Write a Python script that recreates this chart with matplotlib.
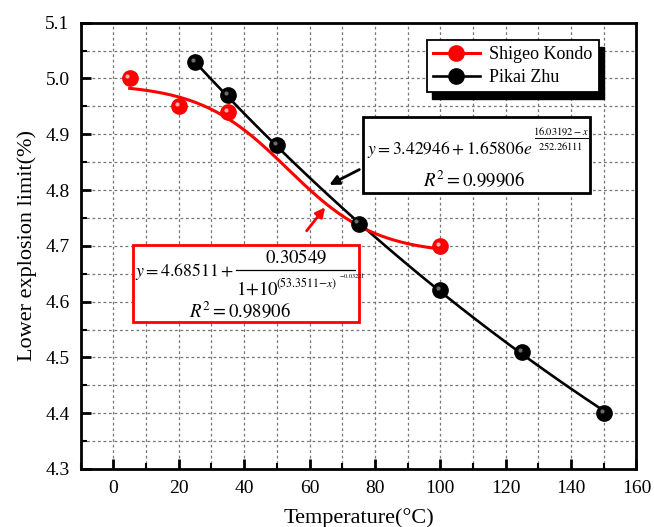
import numpy as np
import matplotlib
matplotlib.use("Agg")
import matplotlib.pyplot as plt
import matplotlib.transforms as mtransforms
from matplotlib.patches import Rectangle
from matplotlib.lines import Line2D
from matplotlib.ticker import MultipleLocator, FormatStrFormatter

plt.rcParams["font.family"] = ["Liberation Serif", "DejaVu Serif"]
plt.rcParams["mathtext.fontset"] = "stix"

# measured data
kondo_t = [5, 20, 35, 100]
kondo_lel = [5.00, 4.95, 4.94, 4.70]
zhu_t = [25, 35, 50, 75, 100, 125, 150]
zhu_lel = [5.03, 4.97, 4.88, 4.74, 4.62, 4.51, 4.40]

# fit coefficients shown in the boxes
kondo_fit = dict(a1=4.68511, span=0.30549, x0=53.3511, p=-0.03221)
zhu_fit = dict(y0=3.42946, a=1.65806, x0=16.03192, t=252.26111)

RED = "#ff0000"
W, H = 654, 527


def kondo_curve(x):
    f = kondo_fit
    return f["a1"] + f["span"] / (1 + 10 ** ((f["x0"] - x) * f["p"]))


def zhu_curve(x):
    f = zhu_fit
    return f["y0"] + f["a"] * np.exp((f["x0"] - x) / f["t"])


fig = plt.figure(figsize=(6.54, 5.27), dpi=100)
ax = fig.add_axes([0.1233, 0.1101, 0.8499, 0.8468])


# helpers in pixel coords (origin top-left) for the annotation boxes
def ptext(x, y, s, size, ha="left", **kw):
    fig.text(x / W, 1 - y / H, s, fontsize=size, ha=ha, va="center", zorder=12, **kw)


def pline(x0, x1, y, lw=0.9):
    fig.add_artist(Line2D([x0 / W, x1 / W], [1 - y / H, 1 - y / H], color="black",
                          lw=lw, transform=fig.transFigure, zorder=12))


def pbox(x0, y0, x1, y1, ec):
    fig.add_artist(Rectangle((x0 / W, 1 - y1 / H), (x1 - x0) / W, (y1 - y0) / H,
                             transform=fig.transFigure, facecolor="white",
                             edgecolor=ec, lw=2, zorder=11))


xr = np.linspace(kondo_t[0], kondo_t[-1], 200)
xb = np.linspace(zhu_t[0], zhu_t[-1], 200)
ax.plot(xb, zhu_curve(xb), color="black", lw=1.9, zorder=3)
ax.plot(xr, kondo_curve(xr), color=RED, lw=2.2, zorder=4)

# glossy-ish markers
hl = mtransforms.offset_copy(ax.transData, fig=fig, x=-1.6, y=1.6, units="points")
ax.plot(zhu_t, zhu_lel, "o", color="black", ms=11, zorder=5)
ax.plot(zhu_t, zhu_lel, "o", color="#6a6a6a", ms=3, mew=0, transform=hl, zorder=6)
ax.plot(kondo_t, kondo_lel, "o", color=RED, ms=11, zorder=5)
ax.plot(kondo_t, kondo_lel, "o", color="#ffb0b0", ms=3, mew=0, transform=hl, zorder=6)

ax.set_xlim(-10, 160)
ax.set_ylim(4.3, 5.1)
ax.xaxis.set_major_locator(MultipleLocator(20))
ax.xaxis.set_minor_locator(MultipleLocator(10))
ax.yaxis.set_major_locator(MultipleLocator(0.1))
ax.yaxis.set_minor_locator(MultipleLocator(0.05))
ax.yaxis.set_major_formatter(FormatStrFormatter("%.1f"))
ax.tick_params(which="both", direction="in", top=False, right=False)
ax.tick_params(which="major", length=7, width=2, labelsize=14, pad=8)
ax.tick_params(which="minor", length=4, width=1.5)
ax.grid(True, which="both", color="#777777", lw=0.9, ls=(0, (2.2, 2.2)))
for s in ax.spines.values():
    s.set_linewidth(2)

ax.set_xlabel("Temperature(\u00b0C)", fontsize=16, labelpad=8)
ax.set_ylabel("Lower explosion limit(%)", fontsize=16, labelpad=6)

# legend with hard black shadow
handles = [
    Line2D([], [], color=RED, lw=2.2, marker="o", ms=11),
    Line2D([], [], color="black", lw=1.9, marker="o", ms=11),
]
leg = ax.legend(handles, ["Shigeo Kondo", "Pikai Zhu"], loc="upper left",
                bbox_to_anchor=(0.6226, 0.961), fontsize=13, fancybox=False,
                framealpha=1, edgecolor="black", borderpad=0.35,
                handlelength=2.6, handletextpad=0.5, labelspacing=0.3,
                borderaxespad=0)
leg.get_frame().set_linewidth(1.3)
leg.set_zorder(10)
fig.canvas.draw()
bb = leg.get_window_extent().transformed(ax.transAxes.inverted())
off = mtransforms.offset_copy(ax.transAxes, fig=fig, x=3.8, y=-5, units="points")
ax.add_patch(Rectangle((bb.x0, bb.y0), bb.width, bb.height, transform=off,
                       facecolor="black", edgecolor="black", zorder=9, clip_on=False))

# Pikai Zhu fit box
pbox(363, 117, 590, 193, "black")
ptext(367, 150, r"$y = 3.42946 + 1.65806e$", 12.6)
ptext(561, 132, r"$16.03192-x$", 7.5, ha="center")
pline(535, 588, 138, lw=0.7)
ptext(561, 146, r"$252.26111$", 7.5, ha="center")
ptext(474, 180, r"$R^2 = 0.99906$", 13.5, ha="center")

# Shigeo Kondo fit box
pbox(133, 245, 359, 322, RED)
ptext(135, 271, r"$y = 4.68511 +$", 12.8)
ptext(296, 258, r"$0.30549$", 13.5, ha="center")
pline(236, 355, 270, lw=0.9)
ptext(236, 290, r"$1{+}10$", 13.5)
ptext(276, 283, r"$(53.3511{-}x)$", 8.5)
ptext(339, 276, r"$-0.03221$", 4.6)
ptext(240, 311, r"$R^2 = 0.98906$", 13.5, ha="center")

# arrows
ax.annotate("", xy=(65.3, 4.807), xytext=(76.0, 4.839),
            arrowprops=dict(arrowstyle="-|>", color="black", lw=2, mutation_scale=14),
            zorder=9)
ax.annotate("", xy=(65.3, 4.773), xytext=(58.6, 4.723),
            arrowprops=dict(arrowstyle="-|>", color=RED, lw=2, mutation_scale=14),
            zorder=9)

fig.savefig("out.png", dpi=100)
